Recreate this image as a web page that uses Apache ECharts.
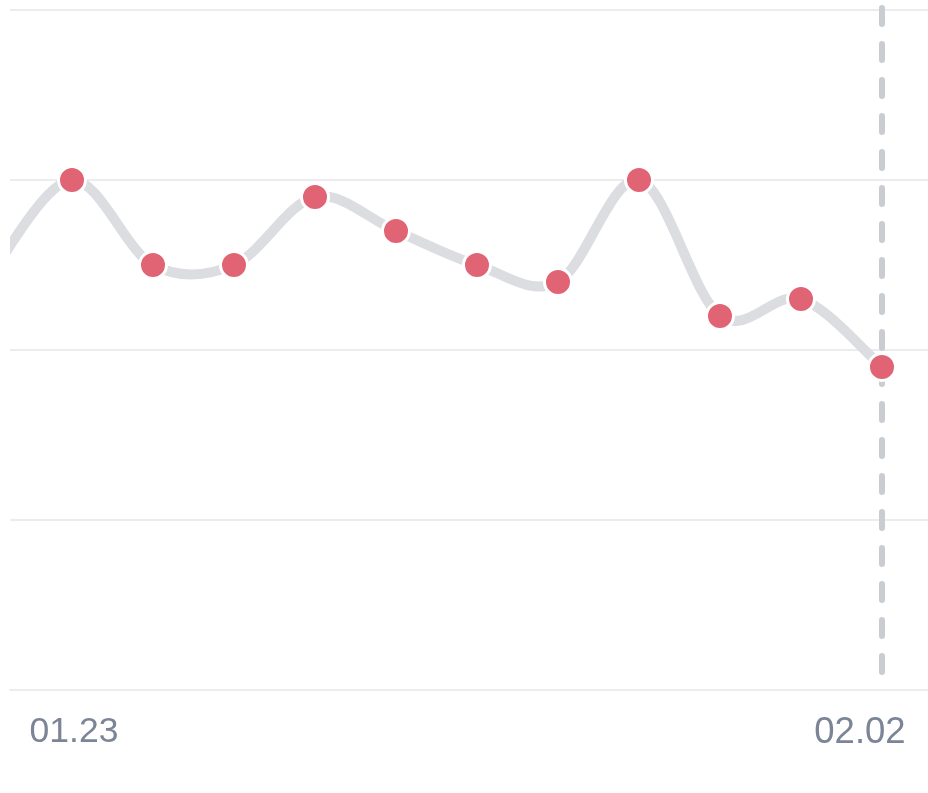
<!DOCTYPE html>
<html>
<head>
<meta charset="utf-8">
<script src="https://cdn.jsdelivr.net/npm/echarts@6/dist/echarts.min.js"></script>
<style>
html,body{margin:0;padding:0;background:#fff;}
#chart{width:928px;height:793px;}
</style>
</head>
<body>
<div id="chart"></div>
<script>
// Dates (01.22 lies just outside the visible window on the left)
const categories = ['01.22','01.23','01.24','01.25','01.26','01.27','01.28','01.29','01.30','01.31','02.01','02.02'];
const values = [24.5, 30, 25, 25, 29, 27, 25, 24, 30, 22, 23, 19];
// Tick labels shown on the x axis (by category index)
const tickIndexes = [1, 11];
const tickLabels = ['01.23', '02.02'];
const highlightIndex = 11;
const yMin = 0, yMax = 40, yStep = 10;

const chart = echarts.init(document.getElementById('chart'));
const seriesData = values.map((v, i) => [i, v]);
const FONT = 'Liberation Sans, Arial, sans-serif';

function renderCurve(params, api) {
  if (params.dataIndex !== 0) return null;
  const pts = seriesData.map(d => api.coord(d));
  const n = pts.length;
  let d = 'M' + pts[0][0] + ' ' + pts[0][1];
  for (let i = 0; i < n - 1; i++) {
    const p0 = pts[Math.max(i - 1, 0)];
    const p1 = pts[i];
    const p2 = pts[i + 1];
    const p3 = pts[Math.min(i + 2, n - 1)];
    const c1x = p1[0] + (p2[0] - p0[0]) / 6;
    const c1y = p1[1] + (p2[1] - p0[1]) / 6;
    const c2x = p2[0] - (p3[0] - p1[0]) / 6;
    const c2y = p2[1] - (p3[1] - p1[1]) / 6;
    d += ' C' + c1x + ' ' + c1y + ' ' + c2x + ' ' + c2y + ' ' + p2[0] + ' ' + p2[1];
  }
  return {
    type: 'path',
    shape: { pathData: d },
    style: { fill: 'none', stroke: '#dcdde1', lineWidth: 10, lineJoin: 'round' }
  };
}

function renderGuide(params, api) {
  const top = api.coord([api.value(0), yMax]);
  const bot = api.coord([api.value(0), yMin]);
  return {
    type: 'line',
    shape: { x1: top[0], y1: top[1] - 2, x2: bot[0], y2: bot[1] - 18 },
    style: { stroke: '#c9ccd1', lineWidth: 6, lineDash: [16, 20], lineCap: 'round' }
  };
}

chart.setOption({
  animation: false,
  grid: { left: 10, right: 0, top: 10, bottom: 103, containLabel: false },
  xAxis: {
    type: 'value',
    min: 0.2346,
    max: 11.568,
    axisLine: { show: true, lineStyle: { color: '#ececef', width: 2 } },
    axisTick: { show: false },
    splitLine: { show: false },
    axisLabel: {
      customValues: tickIndexes,
      margin: 24,
      color: '#7b8597',
      fontSize: 35,
      fontFamily: FONT,
      formatter: function (v) {
        const k = tickIndexes.indexOf(Math.round(v));
        if (k < 0) return '';
        const name = tickLabels[k];
        return k === tickIndexes.length - 1 ? '{r|' + name + '}' : '{l|' + name + '}';
      },
      rich: {
        l: { color: '#7b8597', fontSize: 35.5, fontFamily: FONT, padding: [0, 0, 0, 4] },
        r: { color: '#7b8597', fontSize: 36.5, fontFamily: FONT, padding: [0, 44, 0, 0] }
      }
    }
  },
  yAxis: {
    type: 'value',
    min: yMin,
    max: yMax,
    interval: yStep,
    axisLine: { show: false },
    axisTick: { show: false },
    axisLabel: { show: false },
    splitLine: { show: true, lineStyle: { color: '#ececef', width: 2 } }
  },
  series: [
    {
      type: 'custom',
      name: 'guide',
      clip: false,
      silent: true,
      data: [[highlightIndex, yMax]],
      renderItem: renderGuide,
      z: 1
    },
    {
      type: 'custom',
      name: 'curve',
      clip: true,
      silent: true,
      data: seriesData,
      renderItem: renderCurve,
      z: 2
    },
    {
      type: 'scatter',
      name: 'points',
      data: seriesData,
      clip: true,
      symbol: 'circle',
      symbolSize: 27,
      itemStyle: { color: '#e06474', borderColor: '#ffffff', borderWidth: 3, opacity: 1 },
      z: 3
    }
  ]
});
</script>
</body>
</html>
